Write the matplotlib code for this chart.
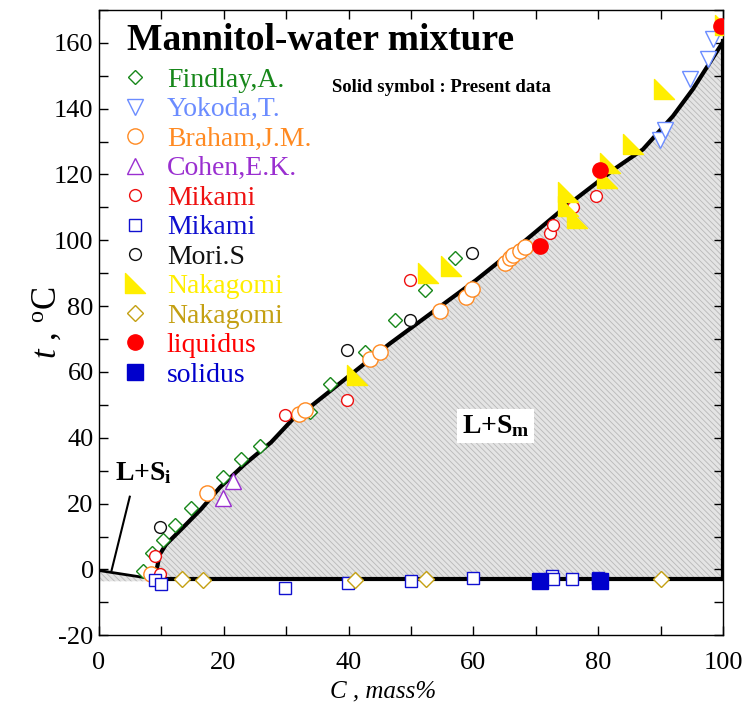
import matplotlib
matplotlib.use("Agg")
import matplotlib.pyplot as plt
from matplotlib.lines import Line2D
from matplotlib.path import Path
from matplotlib.ticker import MultipleLocator

plt.rcParams['font.family'] = ['Liberation Serif', 'DejaVu Serif']
plt.rcParams['mathtext.fontset'] = 'custom'
plt.rcParams['mathtext.rm'] = 'Liberation Serif'
plt.rcParams['mathtext.it'] = 'Liberation Serif:italic'
plt.rcParams['mathtext.bf'] = 'Liberation Serif:bold'
plt.rcParams['axes.unicode_minus'] = False
plt.rcParams['hatch.linewidth'] = 0.6

# --- literature / measured data (C mass%, t degC) ---
findlay_c = [7.1, 8.5, 10.3, 12.3, 14.8, 19.9, 22.8, 25.9, 33.8, 37.1, 42.6, 47.5, 52.3, 57.1]
findlay_t = [-0.5, 5.1, 8.9, 13.4, 18.8, 28.0, 33.6, 37.4, 47.8, 56.4, 66.1, 75.7, 84.9, 94.7]

yokoda_c = [89.8, 90.7, 94.6, 97.5, 98.3]
yokoda_t = [130.6, 133.4, 148.9, 155.2, 161.3]

braham_c = [8.4, 17.3, 32.0, 33.0, 43.5, 45.1, 54.7, 58.8, 59.7, 65.0, 65.8, 66.4, 67.4, 68.2]
braham_t = [-1.5, 23.1, 47.2, 48.5, 64.0, 66.1, 78.5, 82.8, 85.3, 93.0, 94.5, 95.5, 96.9, 97.9]

cohen_c = [19.9, 21.5]
cohen_t = [21.7, 27.0]

mikami_liq_c = [9.0, 9.9, 29.8, 39.7, 49.9, 72.3, 72.8, 75.9, 79.6]
mikami_liq_t = [4.1, -1.5, 46.8, 51.6, 87.9, 102.2, 104.7, 110.0, 113.6]

mikami_sol_c = [9.1, 10.0, 29.9, 39.9, 50.0, 59.9, 72.5, 72.7, 75.8, 79.9]
mikami_sol_t = [-3.3, -4.4, -5.6, -4.0, -3.5, -2.5, -2.0, -2.8, -3.0, -2.5]

mori_c = [9.9, 39.7, 49.9, 59.7]
mori_t = [12.9, 66.6, 75.9, 96.1]

naka_liq_c = [41.4, 52.8, 56.4, 75.1, 75.1, 76.6, 81.4, 81.9, 85.6, 90.5, 100.2]
naka_liq_t = [59.0, 90.1, 92.3, 114.6, 110.3, 106.7, 118.9, 123.4, 129.2, 146.1, 165.3]

naka_sol_c = [13.3, 16.7, 41.0, 52.4, 90.0]
naka_sol_t = [-3.0, -3.2, -3.3, -3.0, -3.0]

present_liq_c = [70.6, 80.3, 99.6]
present_liq_t = [98.4, 121.3, 165.2]

present_sol_c = [70.7, 80.3]
present_sol_t = [-3.5, -3.5]

# phase boundaries
liq_c = [9.0, 9.8, 10.8, 13.5, 16.4, 19.4, 23.4, 27.6, 31.4, 33.8, 46.6, 60.4,
         68.4, 74.8, 82.8, 87.1, 91.9, 95.1, 100.0]
liq_t = [-2.8, 4.6, 7.6, 12.7, 18.3, 24.9, 32.0, 38.6, 46.3, 49.3, 68.6, 87.9,
         100.1, 110.3, 122.0, 127.6, 137.7, 145.9, 160.5]
ice_c = [0.0, 8.5]
ice_t = [-0.3, -2.8]
t_eut = -2.8

# right-angle triangle marker used for the Nakagomi liquidus points
corner_tri = Path([(-1, 1), (-1, -1), (1, -1), (-1, 1)],
                  [Path.MOVETO, Path.LINETO, Path.LINETO, Path.CLOSEPOLY])

series = [
    # label, c, t, marker, colour, size, filled
    ('Findlay,A.', findlay_c, findlay_t, 'D', '#17871a', 7, False),
    ('Yokoda,T.', yokoda_c, yokoda_t, 'v', '#6b8cff', 11, False),
    ('Braham,J.M.', braham_c, braham_t, 'o', '#ff8a22', 11, False),
    ('Cohen,E.K.', cohen_c, cohen_t, '^', '#9a2fd0', 11, False),
    ('Mikami', mikami_liq_c, mikami_liq_t, 'o', '#ee1111', 8.5, False),
    ('Mikami', mikami_sol_c, mikami_sol_t, 's', '#1010d0', 9, False),
    ('Mori.S', mori_c, mori_t, 'o', '#111111', 8.5, False),
    ('Nakagomi', naka_liq_c, naka_liq_t, corner_tri, '#ffee00', 14, True),
    ('Nakagomi', naka_sol_c, naka_sol_t, 'D', '#c4a012', 8, False),
    ('liquidus', present_liq_c, present_liq_t, 'o', '#ff0000', 11, True),
    ('solidus', present_sol_c, present_sol_t, 's', '#0000cc', 11.5, True),
]

fig = plt.figure(figsize=(7.47, 7.09), dpi=100)
ax = fig.add_axes([0.1319, 0.104, 0.8366, 0.882])

# shaded two-phase regions
hatch_kw = dict(facecolor='#e4e4e4', edgecolor='#b8b8b8', hatch='\\\\\\\\\\\\', linewidth=0)
ax.fill_between(liq_c, liq_t, t_eut, **hatch_kw, zorder=1)
ax.fill_between(ice_c, ice_t, [t_eut - 0.8, t_eut - 0.8], **hatch_kw, zorder=1)

# phase boundary lines
ax.plot(liq_c, liq_t, color='black', lw=3, zorder=2)
ax.plot([liq_c[0], 100], [t_eut, t_eut], color='black', lw=3, zorder=2)
ax.plot([100, 100], [t_eut, liq_t[-1]], color='black', lw=3, zorder=2)
ax.plot(ice_c, ice_t, color='black', lw=2, zorder=2)

handles, labels, colours = [], [], []
for label, c, t, mk, col, ms, filled in series:
    fc = col if filled else 'white'
    ax.plot(c, t, linestyle='none', marker=mk, markersize=ms, markeredgecolor=col,
            markerfacecolor=fc, markeredgewidth=1.0, zorder=3)
    handles.append(Line2D([], [], linestyle='none', marker=mk, markersize=ms,
                          markeredgecolor=col, markerfacecolor=fc, markeredgewidth=1.0))
    labels.append(label)
    colours.append(col)

ax.legend(handles, labels, loc='upper left', bbox_to_anchor=(0.038, 0.908),
          frameon=False, fontsize=20, handlelength=0.95, handletextpad=0.65,
          labelspacing=0.145, borderpad=0, borderaxespad=0, labelcolor=colours)

# annotations
ax.text(4.5, 157.9, 'Mannitol-water mixture', fontsize=27, fontweight='bold')
ax.text(37.3, 145.1, 'Solid symbol : Present data', fontsize=13.5, fontweight='bold')
ax.text(58.1, 41.5, r'L+S$_\mathbf{m}$', fontsize=20, fontweight='bold',
        bbox=dict(facecolor='white', edgecolor='none', pad=3), zorder=4)
ax.text(2.6, 27.2, r'L+S$_\mathbf{i}$', fontsize=20, fontweight='bold')
ax.plot([5.0, 2.1], [22.1, -0.2], color='black', lw=1.5)

ax.set_xlim(0, 100)
ax.set_ylim(-20, 170)
ax.xaxis.set_major_locator(MultipleLocator(20))
ax.xaxis.set_minor_locator(MultipleLocator(10))
ax.yaxis.set_major_locator(MultipleLocator(20))
ax.yaxis.set_minor_locator(MultipleLocator(10))
ax.tick_params(which='both', direction='in', top=True, right=True, length=6.5,
               width=1, labelsize=19)
ax.tick_params(axis='x', pad=12)
for s in ax.spines.values():
    s.set_linewidth(1)

ax.set_xlabel('C , mass%', fontsize=18, fontstyle='italic')
ax.xaxis.set_label_coords(0.456, -0.073)
ax.set_ylabel(r'$t$ , $^{\mathrm{o}}$C', fontsize=25)
ax.yaxis.set_label_coords(-0.056, 0.5)

fig.savefig('out.png', dpi=100)
